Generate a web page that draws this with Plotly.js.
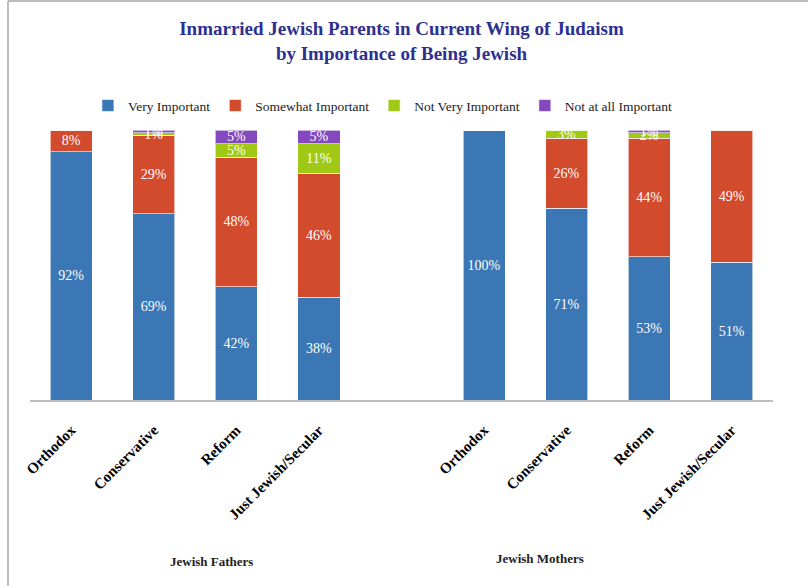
<!DOCTYPE html>
<html>
<head>
<meta charset="utf-8">
<script src="https://cdn.plot.ly/plotly-3.0.1.min.js"></script>
<style>html,body{margin:0;padding:0;background:#fff;}#chart{width:808px;height:586px;}</style>
</head>
<body>
<div id="chart"></div>
<script>
// ---- data ----
var wings = ["Orthodox", "Conservative", "Reform", "Just Jewish/Secular"];
var groups = ["Jewish Fathers", "Jewish Mothers"];
var seriesNames = ["Very Important", "Somewhat Important", "Not Very Important", "Not at all Important"];
var fathersVery = [92, 69, 42, 38];
var fathersSomewhat = [8, 29, 48, 46];
var fathersNotVery = [0, 1, 5, 11];
var fathersNotAtAll = [0, 1, 5, 5];
var mothersVery = [100, 71, 53, 51];
var mothersSomewhat = [0, 26, 44, 49];
var mothersNotVery = [0, 3, 2, 0];
var mothersNotAtAll = [0, 0, 1, 0];
var titleLines = ["Inmarried Jewish Parents in Current Wing of Judaism", "by Importance of Being Jewish"];

// ---- styling ----
var colors = ["#3A77B4", "#D34B2D", "#A0C915", "#8449BE"];
var serif = "Liberation Serif, DejaVu Serif, serif";

// x slots: fathers 0..3, empty slot 4, mothers 5..8
var xs = [];
var ticktext = [];
for (var i = 0; i < wings.length; i++) { xs.push(i); ticktext.push("<b>" + wings[i] + "</b>"); }
for (var j = 0; j < wings.length; j++) { xs.push(wings.length + 1 + j); ticktext.push("<b>" + wings[j] + "</b>"); }

var seriesVals = [
  fathersVery.concat(mothersVery),
  fathersSomewhat.concat(mothersSomewhat),
  fathersNotVery.concat(mothersNotVery),
  fathersNotAtAll.concat(mothersNotAtAll)
];

var traces = seriesVals.map(function (vals, k) {
  return {
    type: "bar",
    name: seriesNames[k],
    x: xs,
    y: vals,
    width: 0.51,
    marker: {color: colors[k], line: {color: "rgba(255,255,255,0.6)", width: 1}},
    text: vals.map(function (v) { return v + "%"; }),
    textposition: "inside",
    insidetextanchor: "middle",
    constraintext: "none",
    textfont: {family: serif, size: 14, color: "#ffffff"},
    insidetextfont: {family: serif, size: 14, color: "#ffffff"},
    hoverinfo: "name+y"
  };
});

var layout = {
  width: 808,
  height: 586,
  barmode: "stack",
  paper_bgcolor: "#ffffff",
  plot_bgcolor: "#ffffff",
  margin: {l: 30, r: 35, t: 130, b: 186},
  title: {
    text: "<b>" + titleLines.join("<br>") + "</b>",
    font: {family: serif, size: 19, color: "#2E3090"},
    x: 0.5, xanchor: "center", xref: "paper",
    yref: "container", y: 0.94, yanchor: "middle"
  },
  showlegend: true,
  legend: {
    orientation: "h",
    x: 0.475, xanchor: "center",
    y: 1.09, yanchor: "middle",
    font: {family: serif, size: 13.5, color: "#222"},
    traceorder: "normal",
    tracegroupgap: 0
  },
  xaxis: {
    range: [-0.5, 8.5],
    tickmode: "array",
    tickvals: xs,
    ticktext: ticktext,
    tickangle: -45,
    tickfont: {family: serif, size: 15, color: "#000"},
    showline: true,
    linecolor: "#BEBEBE",
    linewidth: 1.5,
    ticks: "",
    ticklabelstandoff: 14,
    showgrid: false,
    zeroline: false,
    fixedrange: true
  },
  yaxis: {
    range: [0, 100],
    visible: false,
    showgrid: false,
    zeroline: false,
    fixedrange: true
  },
  annotations: [
    {text: "<b>" + groups[0] + "</b>", xref: "paper", yref: "paper", x: 0.186, y: -0.597, yanchor: "middle",
     showarrow: false, font: {family: serif, size: 13, color: "#222"}},
    {text: "<b>" + groups[1] + "</b>", xref: "paper", yref: "paper", x: 0.748, y: -0.586, yanchor: "middle",
     showarrow: false, font: {family: serif, size: 13, color: "#222"}}
  ],
  shapes: [
    {type: "line", xref: "paper", yref: "paper", x0: -0.0296, x1: 1.05, y0: 1.478, y1: 1.478,
     line: {color: "#A6A6A6", width: 1.5}},
    {type: "line", xref: "paper", yref: "paper", x0: -0.0296, x1: -0.0296, y0: 1.478, y1: -0.7,
     line: {color: "#A6A6A6", width: 1.5}}
  ]
};

Plotly.newPlot("chart", traces, layout, {displayModeBar: false, staticPlot: true});
</script>
</body>
</html>
